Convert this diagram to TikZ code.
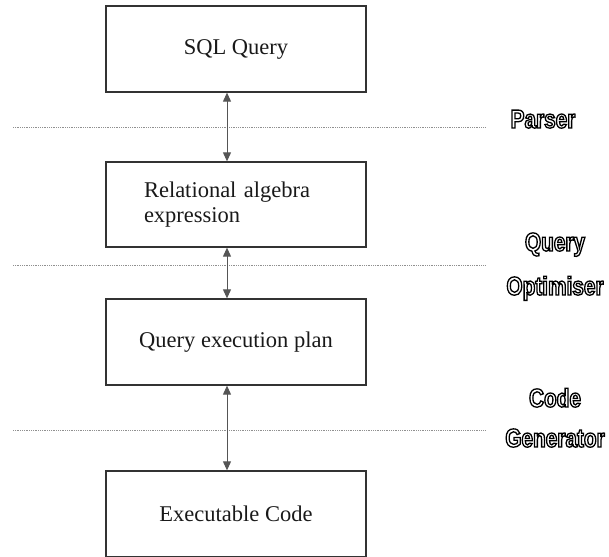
\documentclass[tikz,border=0pt]{standalone}
\usepackage{fontspec}
\setmainfont{Liberation Serif}
\newfontfamily\labfont[FakeStretch=0.8]{Liberation Sans}
\usetikzlibrary{arrows.meta}

% hollow lettering: glyphs filled white and stroked black
\newcommand\hollow[1]{%
  \special{pdf:literal direct 2 Tr 1.3 w 0 G 1 g}#1%
  \special{pdf:literal direct 0 Tr 0 g 0 G 0.4 w}}

\definecolor{boxline}{HTML}{333333}
\definecolor{arrowline}{HTML}{555555}
\definecolor{sepline}{HTML}{909090}

\tikzset{
  stagebox/.style={draw=boxline, line width=1.3pt, minimum width=260pt,
    minimum height=86pt, inner sep=0pt, text=black!90,
    font=\fontsize{22.5}{25.5}\selectfont},
  flow/.style={draw=arrowline, line width=1pt,
    {Triangle[width=8pt,length=9pt]}-{Triangle[width=8pt,length=9pt]}},
  sepline/.style={draw=sepline, line width=0.9pt, dash pattern=on 1pt off 0.8pt},
  phase/.style={anchor=base, inner sep=0pt,
    font=\labfont\bfseries\fontsize{26}{26}\selectfont}
}

\begin{document}
\begin{tikzpicture}[x=1pt, y=1pt]
  \clip (0,0) rectangle (609,556);

  % processing stages
  \node[stagebox] (sql) at (236,507) {SQL Query};
  \node[stagebox, minimum height=85pt, text width=184pt, inner xsep=38pt,
        align=left] (rel) at (236,351.5) {Relational algebra\\expression};
  \node[stagebox] (plan) at (236,214) {Query execution plan};
  \node[stagebox] (code) at (236,42) {Executable Code};

  % phase boundaries
  \coordinate (s1l) at (13,429);  \coordinate (s1r) at (486,429);
  \coordinate (s2l) at (13,291);  \coordinate (s2r) at (486,291);
  \coordinate (s3l) at (13,126);  \coordinate (s3r) at (486,126);
  \draw[sepline] (s1l) -- (s1r);
  \draw[sepline] (s2l) -- (s2r);
  \draw[sepline] (s3l) -- (s3r);

  % two-way links between stages
  \draw[flow] ([xshift=-9pt]sql.south) -- ([xshift=-9pt]rel.north);
  \draw[flow] ([xshift=-9pt]rel.south) -- ([xshift=-9pt]plan.north);
  \draw[flow] ([xshift=-9pt]plan.south) -- ([xshift=-9pt]code.north);

  % phase names
  \node[phase] (parser) at (543,428) {\hollow{Parser}};
  \node[phase] (opt1) at (555,305) {\hollow{Query}};
  \node[phase] (opt2) at (555,261) {\hollow{Optimiser}};
  \node[phase] (gen1) at (555,149) {\hollow{Code}};
  \node[phase] (gen2) at (555,109) {\hollow{Generator}};
\end{tikzpicture}
\end{document}
